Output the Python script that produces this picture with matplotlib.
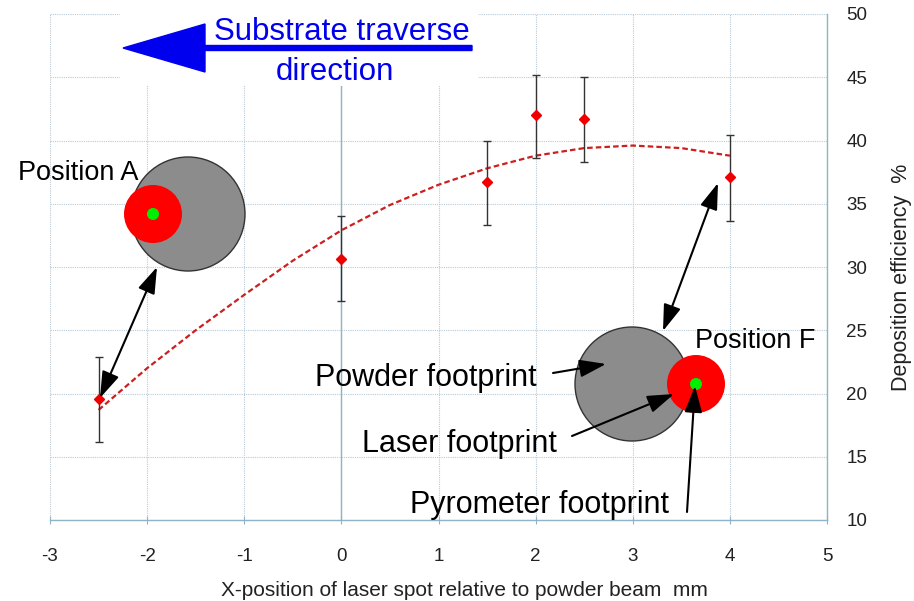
import matplotlib.pyplot as plt
from matplotlib.patches import Circle, Rectangle, FancyArrow
import numpy as np

plt.rcParams['font.family'] = ['Liberation Sans', 'DejaVu Sans']

# measured points (x in mm, deposition efficiency in %)
x_pos = [-2.5, 0, 1.5, 2, 2.5, 4]
efficiency = [19.6, 30.6, 36.7, 42.0, 41.7, 37.1]
err_low = [16.2, 27.3, 33.3, 38.6, 38.3, 33.6]
err_high = [22.9, 34.0, 40.0, 45.2, 45.0, 40.4]

# trend line
trend_x = [-2.5, -2.0, -1.5, -1.0, -0.5, 0.0, 0.5, 1.0, 1.5, 2.0, 2.5, 3.0, 3.5, 4.0]
trend_y = [18.7, 22.0, 25.0, 27.8, 30.5, 32.9, 34.9, 36.5, 37.8, 38.8, 39.4, 39.6, 39.4, 38.8]

x_ticks = [-3, -2, -1, 0, 1, 2, 3, 4, 5]
y_ticks = [10, 15, 20, 25, 30, 35, 40, 45, 50]

axis_col = '#8fb3c8'
grid_col = '#b8cbd8'
txt_col = '#222222'

fig = plt.figure(figsize=(9.14, 6.01), dpi=100)
ax = fig.add_axes([50 / 914, 81 / 601, 777 / 914, 506 / 601])

# grid
for xv in x_ticks:
    ax.axvline(xv, color=grid_col, linestyle=(0, (1, 1)), linewidth=0.8, zorder=0)
for yv in y_ticks:
    ax.axhline(yv, color=grid_col, linestyle=(0, (1, 1)), linewidth=0.8, zorder=0)
ax.axvline(0, color=axis_col, linewidth=1.0, zorder=1)

ax.plot(trend_x, trend_y, color='#cc1f1f', linestyle=(0, (2.5, 1.4)), linewidth=1.6, zorder=2)

yerr = [np.array(efficiency) - np.array(err_low), np.array(err_high) - np.array(efficiency)]
ax.errorbar(x_pos, efficiency, yerr=yerr, fmt='none', ecolor='#333333',
            elinewidth=1.0, capsize=3, capthick=1.0, zorder=3)
ax.plot(x_pos, efficiency, linestyle='none', marker='D', markersize=5.5,
        color='#ee0000', zorder=4)

ax.set_xlim(-3, 5)
ax.set_ylim(10, 50)
ax.set_xticks(x_ticks)
ax.set_yticks(y_ticks)
ax.set_xticklabels([str(v) for v in x_ticks])
ax.yaxis.tick_right()
ax.yaxis.set_label_position('right')
ax.tick_params(axis='x', direction='inout', length=6, color=axis_col, pad=17,
               labelsize=13.5, labelcolor=txt_col)
ax.tick_params(axis='y', length=0, pad=14, labelsize=13.5, labelcolor=txt_col)
for s in ['left', 'top']:
    ax.spines[s].set_visible(False)
for s in ['bottom', 'right']:
    ax.spines[s].set_color(axis_col)
    ax.spines[s].set_linewidth(1.0)
ax.set_xlabel('X-position of laser spot relative to powder beam  mm', fontsize=15,
              color=txt_col)
ax.set_ylabel('Deposition efficiency  %', fontsize=15.5, color=txt_col)
ax.xaxis.set_label_coords(0.534, -0.121)
ax.yaxis.set_label_coords(1.082, 0.48)

# overlay in pixel coordinates for the sketches and annotations
ov = fig.add_axes([0, 0, 1, 1], zorder=5)
ov.set_xlim(0, 914)
ov.set_ylim(601, 0)
ov.axis('off')
ov.patch.set_alpha(0)

ov.add_patch(Rectangle((120, 6), 358, 80, facecolor='white', edgecolor='none'))
ov.add_patch(FancyArrow(472, 48, -349, 0, width=5, head_width=48, head_length=82,
                        length_includes_head=True, color='#0000ee'))
ov.text(342, 40, 'Substrate traverse', color='#0000ee', fontsize=22.5, ha='center', va='baseline')
ov.text(335, 80, 'direction', color='#0000ee', fontsize=22.5, ha='center', va='baseline')

def footprint(cx, cy, rx):
    ov.add_patch(Circle((cx, cy), 57, facecolor='#8c8c8c', edgecolor='#333333', linewidth=1))
    ov.add_patch(Circle((rx, cy), 29, facecolor='#ff0000', edgecolor='none'))
    ov.add_patch(Circle((rx, cy), 6, facecolor='#00ee00', edgecolor='none'))

footprint(188, 214, 153)
footprint(632, 384, 696)

arrow_kw = dict(arrowstyle='-|>,head_length=0.9,head_width=0.3', color='black', lw=1.5,
                mutation_scale=18, shrinkA=0, shrinkB=0)
dbl_kw = dict(arrowstyle='<|-|>,head_length=0.9,head_width=0.3', color='black', lw=1.5,
              mutation_scale=18, shrinkA=0, shrinkB=0)
ov.annotate('', xy=(100, 398), xytext=(157, 267), arrowprops=dbl_kw)
ov.annotate('', xy=(718, 183), xytext=(663, 331), arrowprops=dbl_kw)

ov.text(18, 180, 'Position A', fontsize=19.5, ha='left', va='baseline')
ov.text(695, 348, 'Position F', fontsize=19.5, ha='left', va='baseline')
ov.text(315, 386, 'Powder footprint', fontsize=22, ha='left', va='baseline')
ov.text(362, 452, 'Laser footprint', fontsize=22, ha='left', va='baseline')
ov.text(410, 513, 'Pyrometer footprint', fontsize=22, ha='left', va='baseline')

ov.annotate('', xy=(606, 364), xytext=(553, 373), arrowprops=arrow_kw)
ov.annotate('', xy=(674, 394), xytext=(572, 436), arrowprops=arrow_kw)
ov.annotate('', xy=(695, 386), xytext=(687, 512), arrowprops=arrow_kw)

fig.savefig('out.png', dpi=100)
